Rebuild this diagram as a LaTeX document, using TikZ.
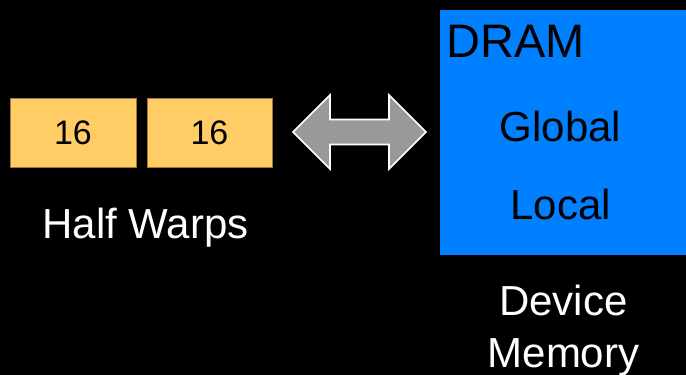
\documentclass[tikz,border=0pt]{standalone}
\usepackage{fontspec}
\setmainfont{Liberation Sans}
\definecolor{warpfill}{HTML}{FFCC66}
\definecolor{warpline}{HTML}{A07A30}
\definecolor{dramblue}{HTML}{0080FF}
\definecolor{arrowgray}{HTML}{999999}
\begin{document}
\begin{tikzpicture}[x=1pt,y=-1pt,
    warp/.style={fill=warpfill,draw=warpline,line width=0.8pt,minimum height=69pt,inner sep=0pt,font=\fontsize{34}{40}\selectfont},
    lbl/.style={inner sep=0pt,anchor=base,font=\fontsize{42}{50}\selectfont}]
                \fill[black] (0,0) rectangle (686,375);
                \useasboundingbox (0,0) rectangle (686,375);

                \node[warp,minimum width=126pt] (w1) at (73,132.5) {16};
                \node[warp,minimum width=125pt] (w2) at (209.5,132.5) {16};
                \node[lbl,text=white] (hw) at (145.5,238) {Half Warps};

                \coordinate (al) at (293,132);
                \coordinate (ar) at (426,132);
                \draw[white,line width=1.6pt,fill=arrowgray,line join=miter]
                    (al) -- ++(37,-37) -- ++(0,24.5) -- ++(59,0) -- ++(0,-24.5)
                    -- (ar) -- ++(-37,37) -- ++(0,-24.5) -- ++(-59,0) -- ++(0,24.5) -- cycle;

                \fill[dramblue] (440,10) rectangle (686,255);
                \node[lbl,anchor=base west,font=\fontsize{47}{56}\selectfont] (dram) at (446,57) {DRAM};
                \node[lbl] (glob) at (560.5,141) {Global};
                \node[lbl] (loc) at (560.5,219) {Local};
                \node[lbl,text=white] (dev) at (563.5,315) {Device};
                \node[lbl,text=white] (mem) at (563.5,367) {Memory};
            \end{tikzpicture}
\end{document}
